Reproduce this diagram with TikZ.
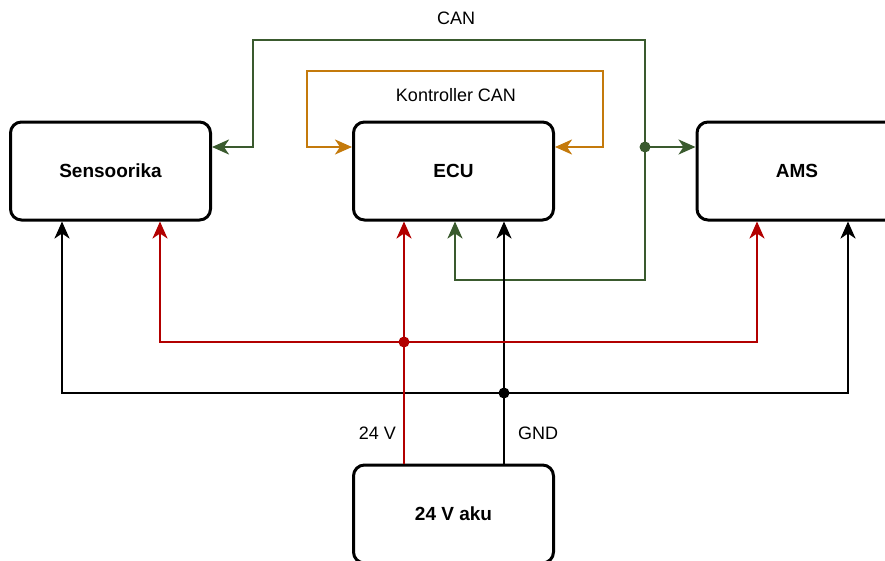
\documentclass[tikz,border=0pt]{standalone}
\usepackage{fontspec}
\setmainfont{Liberation Sans}
\usepackage{tikz}
\usetikzlibrary{arrows.meta, calc}

\definecolor{cangreen}{HTML}{3A5A2E}
\definecolor{ctrlorange}{HTML}{C47A0C}
\definecolor{plusred}{HTML}{B20000}

\begin{document}
\begin{tikzpicture}[x=1pt, y=-1pt,
    unit box/.style={draw, line width=3pt, rounded corners=11pt, minimum width=200pt, minimum height=98pt, font=\fontsize{19}{22}\selectfont\bfseries},
    wire label/.style={font=\fontsize{18}{21}\selectfont, inner sep=0pt},
    wire/.style={line width=2.5pt, -{Stealth[length=17pt, width=15pt, inset=5pt]}},
    can wire/.style={wire, draw=cangreen},
    ctrl wire/.style={wire, draw=ctrlorange, {Stealth[length=17pt, width=15pt, inset=5pt]}-{Stealth[length=17pt, width=15pt, inset=5pt]}},
    plus wire/.style={wire, draw=plusred},
    gnd wire/.style={wire, draw=black}]
    \useasboundingbox (0,0) rectangle (885,560);

    \node[unit box] (sens) at (110.5,171) {Sensoorika};
    \node[unit box] (ecu) at (453.5,171) {ECU};
    \node[unit box] (ams) at (797,171) {AMS};
    \node[unit box] (aku) at (453.5,514) {24 V aku};

    \coordinate (canjunc) at (645,147);
    \coordinate (vjunc) at (404,342);
    \coordinate (gjunc) at (504,393);

    \node[wire label] (canlabel) at (456,18) {CAN};
    \node[wire label] (ctrllabel) at (456,95) {Kontroller CAN};
    \node[wire label, anchor=east] (vlabel) at (396,433) {24 V};
    \node[wire label, anchor=west] (gndlabel) at (518,433) {GND};

    % CAN bus
    \draw[can wire] (canjunc) |- (253,40) |- ([yshift=24pt]sens.east);
    \draw[can wire] (canjunc) -- ([yshift=24pt]ams.west);
    \draw[can wire] (canjunc) |- (455,280) -- (455,0 |- ecu.south);
    \fill[cangreen] (canjunc) circle (5.5pt);

    % controller CAN
    \draw[ctrl wire] ([yshift=24pt]ecu.west) -- (307,147) |- (603,71) |- ([yshift=24pt]ecu.east);

    % ground
    \draw[gnd wire] (aku.north -| gjunc) -- (ecu.south -| gjunc);
    \draw[gnd wire] (gjunc) -| (62,0 |- sens.south);
    \draw[gnd wire] (gjunc) -| (848,0 |- ams.south);
    \fill (gjunc) circle (5.5pt);

    % 24 V
    \draw[plus wire] (aku.north -| vjunc) -- (ecu.south -| vjunc);
    \draw[plus wire] (vjunc) -| (160,0 |- sens.south);
    \draw[plus wire] (vjunc) -| (757,0 |- ams.south);
    \fill[plusred] (vjunc) circle (5.5pt);
\end{tikzpicture}
\end{document}
